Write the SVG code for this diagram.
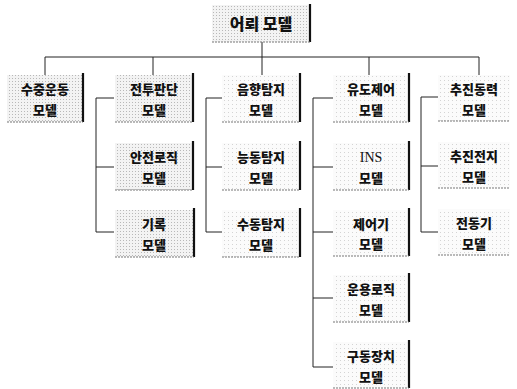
<svg xmlns="http://www.w3.org/2000/svg" width="517" height="389" viewBox="0 0 517 389">
<defs>
<pattern id="dots" width="3" height="3" patternUnits="userSpaceOnUse">
<rect width="3" height="3" fill="#f3f3f3"/>
<rect width="1" height="1" fill="#b8b8b8"/>
</pattern>
<pattern id="dotsLight" width="4" height="4" patternUnits="userSpaceOnUse">
<rect width="4" height="4" fill="#fbfbfb"/>
<rect width="1" height="1" fill="#d4d4d4"/>
</pattern>
</defs>
<style>
.bg{fill:url(#dots);}
.bgl{fill:url(#dotsLight);}
.rb{stroke:#111;stroke-width:2.2;fill:none;}
.bb{stroke:#777;stroke-width:1;stroke-dasharray:2 1;fill:none;}
.ln{stroke:#222;stroke-width:1;fill:none;}
.t{font-family:"Noto Sans CJK KR","Noto Sans",sans-serif;font-weight:900;font-size:13px;fill:#111;text-anchor:middle;}
.tt{font-size:16px;}
.ins{font-family:"Liberation Serif",serif;font-weight:normal;font-size:14px;}
</style>
<rect width="517" height="389" fill="#fff"/>
<g id="connectors">
<polyline class="ln" points="262,42 262,57"/>
<polyline class="ln" points="45,57 479,57"/>
<polyline class="ln" points="45,57 45,75"/>
<polyline class="ln" points="153,57 153,75"/>
<polyline class="ln" points="262,57 262,75"/>
<polyline class="ln" points="369,57 369,75"/>
<polyline class="ln" points="479,57 479,75"/>
<polyline class="ln" points="114,98 96,98 96,232 114,232"/>
<polyline class="ln" points="96,167 114,167"/>
<polyline class="ln" points="222,98 206,98 206,232 222,232"/>
<polyline class="ln" points="206,167 222,167"/>
<polyline class="ln" points="333,98 313,98 313,367 333,367"/>
<polyline class="ln" points="313,167 333,167"/>
<polyline class="ln" points="313,232 333,232"/>
<polyline class="ln" points="313,298 333,298"/>
<polyline class="ln" points="438,97 421,97 421,232 438,232"/>
<polyline class="ln" points="421,166 438,166"/>
</g>
<g id="top">
<rect class="bg" x="212" y="5" width="98" height="37"/>
<line class="rb" x1="310" y1="4" x2="310" y2="42"/>
<line class="bb" x1="212" y1="42" x2="311" y2="42"/>
<text class="t tt" x="261" y="30">어뢰 모델</text>
</g>
<g id="n1">
<rect class="bg" x="7" y="75" width="76" height="47"/>
<line class="rb" x1="83" y1="73" x2="83" y2="122"/>
<line class="bb" x1="7" y1="122" x2="83" y2="122"/>
<text class="t" x="45" y="94">수중운동</text><text class="t" x="45" y="115">모델</text>
</g>
<g id="n2">
<rect class="bg" x="115" y="75" width="78" height="47"/>
<line class="rb" x1="193" y1="73" x2="193" y2="122"/>
<line class="bb" x1="115" y1="122" x2="193" y2="122"/>
<text class="t" x="154" y="94">전투판단</text><text class="t" x="154" y="115">모델</text>
</g>
<g id="n3">
<rect class="bg" x="115" y="143" width="78" height="47"/>
<line class="rb" x1="193" y1="141" x2="193" y2="190"/>
<line class="bb" x1="115" y1="190" x2="193" y2="190"/>
<text class="t" x="154" y="162">안전로직</text><text class="t" x="154" y="183">모델</text>
</g>
<g id="n4">
<rect class="bg" x="115" y="210" width="79" height="47"/>
<line class="rb" x1="194" y1="208" x2="194" y2="257"/>
<line class="bb" x1="115" y1="257" x2="194" y2="257"/>
<text class="t" x="154" y="229">기록</text><text class="t" x="154" y="250">모델</text>
</g>
<g id="n5">
<rect class="bgl" x="222" y="75" width="78" height="47"/>
<line class="rb" x1="300" y1="73" x2="300" y2="122"/>
<line class="bb" x1="222" y1="122" x2="300" y2="122"/>
<text class="t" x="261" y="94">음향탐지</text><text class="t" x="261" y="115">모델</text>
</g>
<g id="n6">
<rect class="bgl" x="222" y="143" width="78" height="47"/>
<line class="rb" x1="300" y1="141" x2="300" y2="190"/>
<line class="bb" x1="222" y1="190" x2="300" y2="190"/>
<text class="t" x="261" y="162">능동탐지</text><text class="t" x="261" y="183">모델</text>
</g>
<g id="n7">
<rect class="bgl" x="222" y="210" width="78" height="47"/>
<line class="rb" x1="300" y1="208" x2="300" y2="257"/>
<line class="bb" x1="222" y1="257" x2="300" y2="257"/>
<text class="t" x="261" y="229">수동탐지</text><text class="t" x="261" y="250">모델</text>
</g>
<g id="n8">
<rect class="bgl" x="333" y="75" width="76" height="47"/>
<line class="rb" x1="409" y1="73" x2="409" y2="122"/>
<line class="bb" x1="333" y1="122" x2="409" y2="122"/>
<text class="t" x="371" y="94">유도제어</text><text class="t" x="371" y="115">모델</text>
</g>
<g id="n9">
<rect class="bgl" x="333" y="143" width="76" height="47"/>
<line class="rb" x1="409" y1="141" x2="409" y2="190"/>
<line class="bb" x1="333" y1="190" x2="409" y2="190"/>
<text class="t ins" x="371" y="162">INS</text><text class="t" x="371" y="183">모델</text>
</g>
<g id="n10">
<rect class="bgl" x="333" y="210" width="76" height="46"/>
<line class="rb" x1="409" y1="208" x2="409" y2="256"/>
<line class="bb" x1="333" y1="256" x2="409" y2="256"/>
<text class="t" x="371" y="229">제어기</text><text class="t" x="371" y="249">모델</text>
</g>
<g id="n11">
<rect class="bgl" x="333" y="275" width="76" height="47"/>
<line class="rb" x1="409" y1="273" x2="409" y2="322"/>
<line class="bb" x1="333" y1="322" x2="409" y2="322"/>
<text class="t" x="371" y="294">운용로직</text><text class="t" x="371" y="315">모델</text>
</g>
<g id="n12">
<rect class="bgl" x="333" y="342" width="76" height="46"/>
<line class="rb" x1="409" y1="340" x2="409" y2="388"/>
<line class="bb" x1="333" y1="388" x2="409" y2="388"/>
<text class="t" x="371" y="361">구동장치</text><text class="t" x="371" y="382">모델</text>
</g>
<g id="n13">
<rect class="bgl" x="438" y="75" width="72" height="46"/>
<line class="bb" x1="438" y1="121" x2="510" y2="121"/>
<text class="t" x="474" y="94">추진동력</text><text class="t" x="474" y="115">모델</text>
</g>
<g id="n14">
<rect class="bgl" x="438" y="142" width="72" height="46"/>
<line class="bb" x1="438" y1="188" x2="510" y2="188"/>
<text class="t" x="474" y="161">추진전지</text><text class="t" x="474" y="182">모델</text>
</g>
<g id="n15">
<rect class="bgl" x="438" y="209" width="72" height="46"/>
<line class="bb" x1="438" y1="255" x2="510" y2="255"/>
<text class="t" x="474" y="228">전동기</text><text class="t" x="474" y="249">모델</text>
</g>
</svg>
